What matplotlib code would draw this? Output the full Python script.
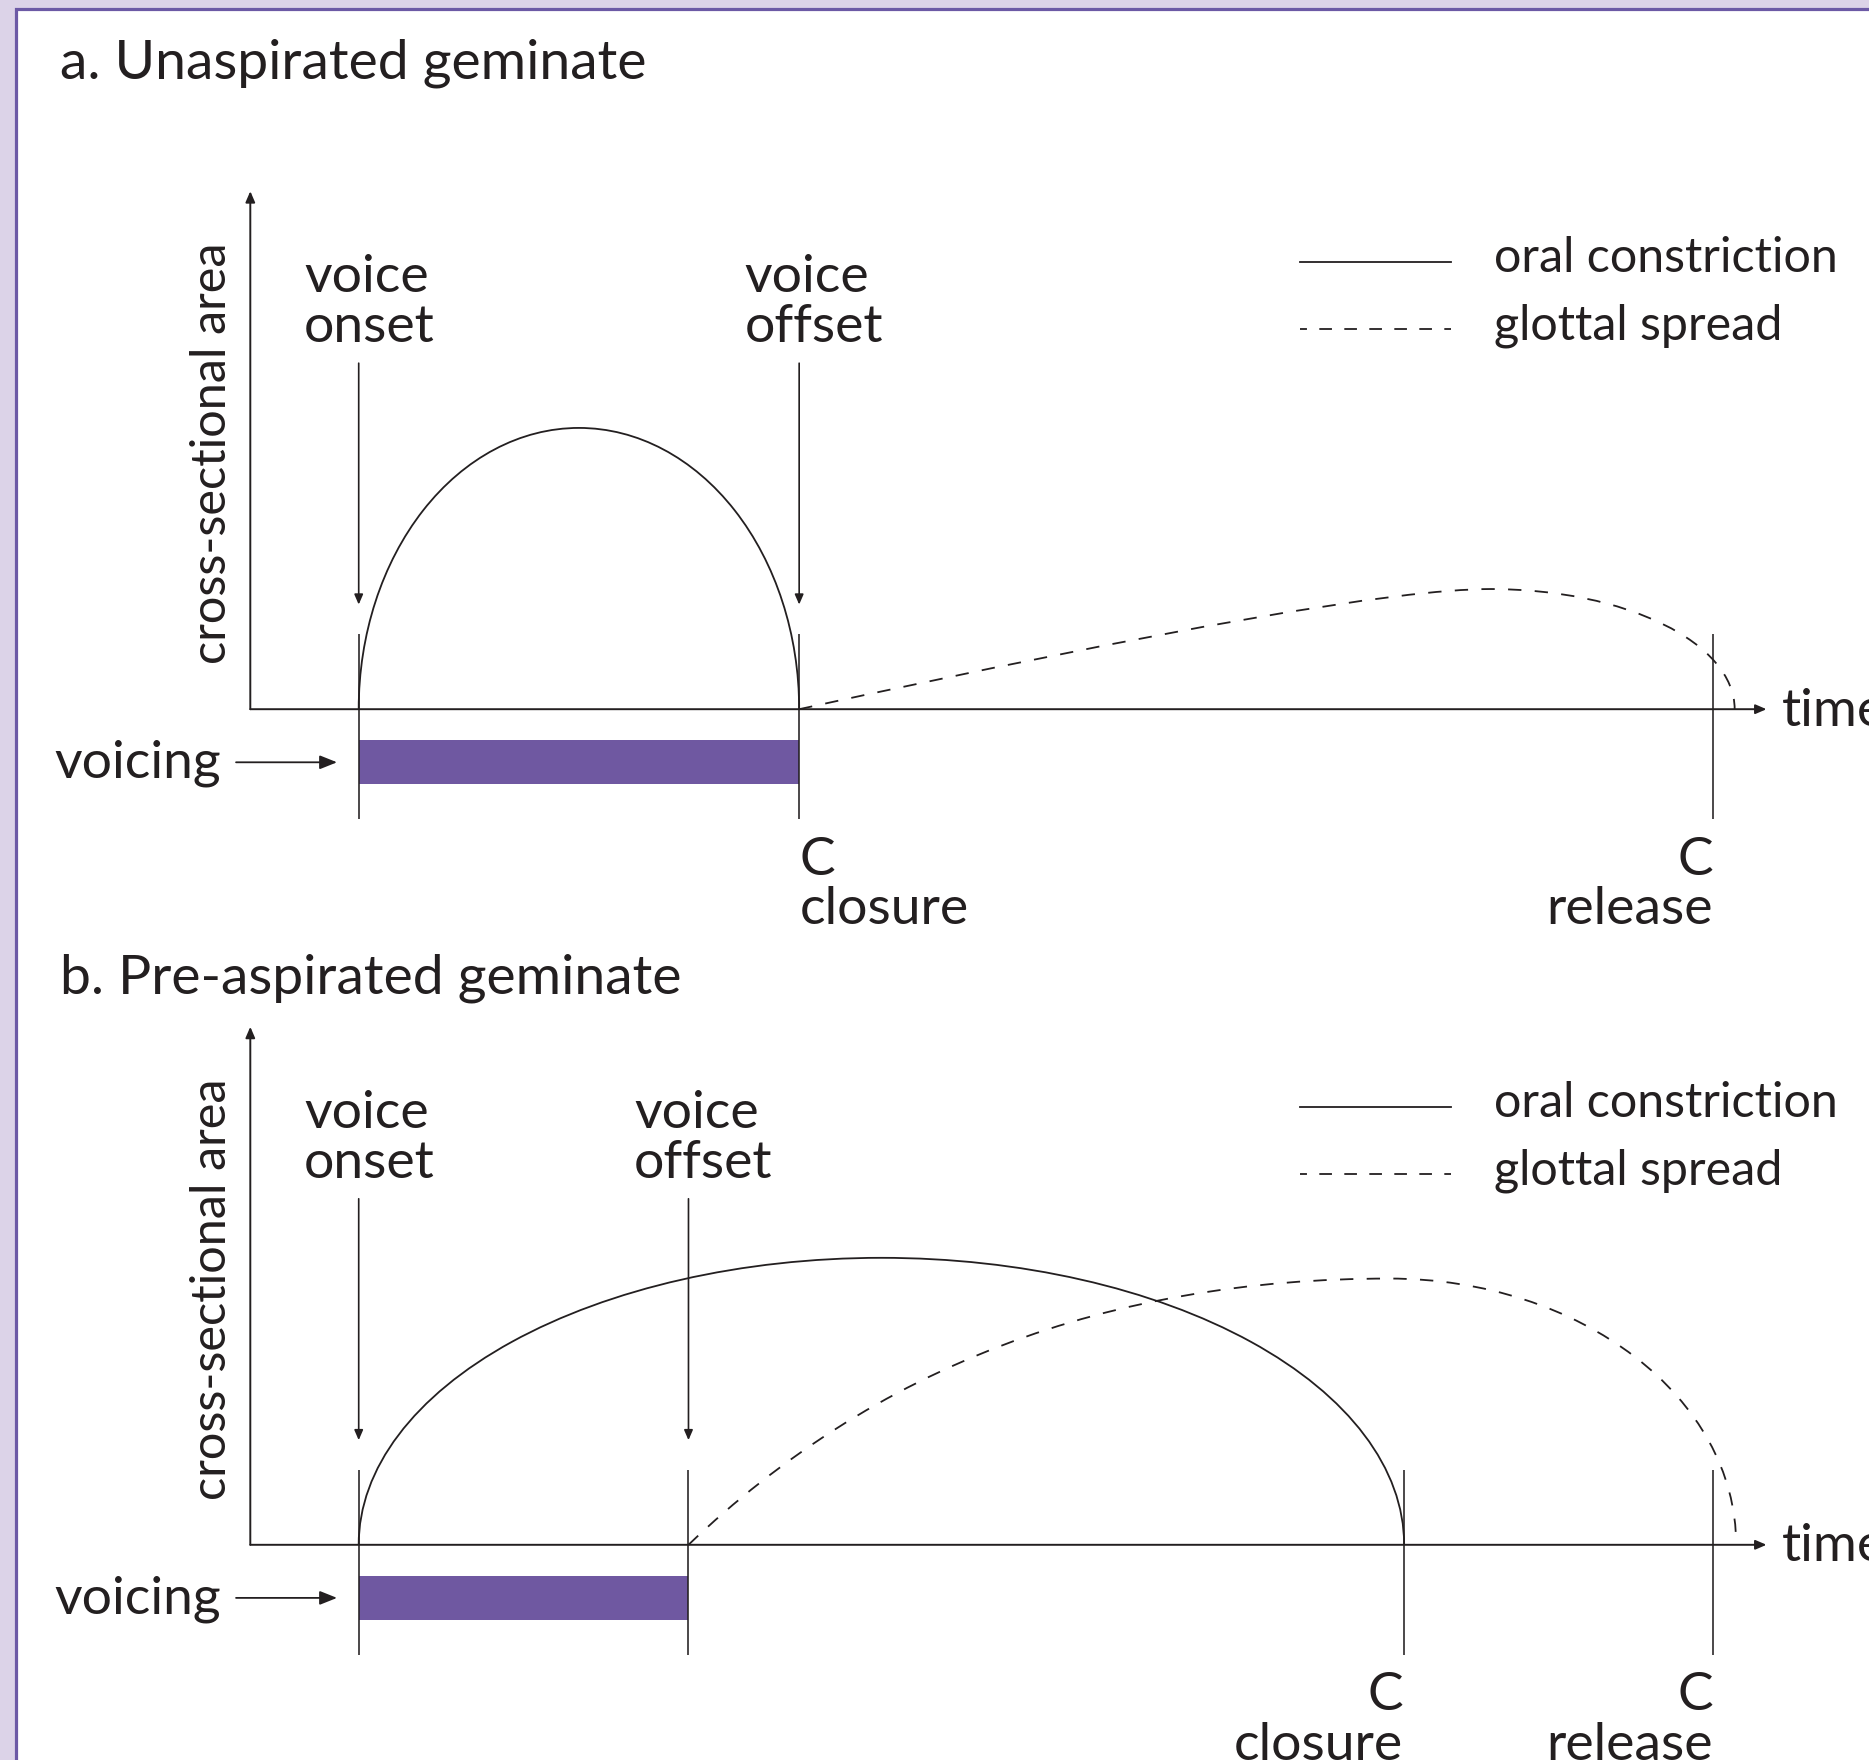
import matplotlib
matplotlib.use("Agg")
import matplotlib.pyplot as plt
from matplotlib.patches import Arc, Rectangle, PathPatch, ArrowStyle
from matplotlib.path import Path

plt.rcParams['font.family'] = ['Lato', 'DejaVu Sans']
plt.rcParams['lines.scale_dashes'] = False

# ---------------------------------------------------------------------------
# Data: time (arbitrary units, 0-100 along the time axis) and
# cross-sectional area (arbitrary units, 0-100 along the vertical axis)
# ---------------------------------------------------------------------------
panel_titles = ["a. Unaspirated geminate", "b. Pre-aspirated geminate"]
voice_onset = [7.15, 7.15]
voice_offset = [36.2, 28.9]
c_closure = [36.2, 76.1]
c_release = [96.5, 96.5]
oral_peak = [54.3, 55.4]
glottal_start = [36.2, 28.9]
glottal_peak_time = [81.8, 75.1]
glottal_peak = [23.2, 51.4]
glottal_end = [97.9, 98.0]
glottal_rise_slope = [0.64, 2.8]

legend_labels = ["oral constriction", "glottal spread"]
y_label = "cross-sectional area"
x_label = "time"

# ---------------------------------------------------------------------------
# Layout / style
# ---------------------------------------------------------------------------
W, H, DPI = 1869, 1760, 100
INK = "#231f20"
VOICE_COLOR = "#6f58a1"
TITLE_FS = 39.8
FS = 38.5
LEG_FS = 34.8
YL_FS = 35
LSP = 1.07

CURVE_DASH = (0, (9.6, 9.6))
KEY_DASH = (4.1, (9.1, 8.9))

X0 = 250.3          # pixel column of t = 0
XPX = 15.162        # pixels per time unit
YPX = 5.18          # pixels per area unit
origin_rows = [709.2, 1544.8]      # pixel row (from top) of area = 0
panel_rows = [(0, 880), (880, 1760)]
title_rows = [78.7, 993.0]
legend_shift = [0.0, -1.8]

fig = plt.figure(figsize=(W / DPI, H / DPI), dpi=DPI)
fig.patch.set_facecolor("#dcd3e8")
fig.add_artist(Rectangle((16 / W, -0.05), 1.2, 1.05 - 9 / H,
                         transform=fig.transFigure, facecolor="white",
                         edgecolor="#6c59a5", linewidth=2.3, zorder=-5))

axis_head = ArrowStyle("-|>", head_length=0.65, head_width=0.28)
voice_head = ArrowStyle("-|>", head_length=0.6, head_width=0.26)
side_head = ArrowStyle("-|>", head_length=1.05, head_width=0.42)


def arrow(ax, start, end, style, lw):
    ax.annotate("", xy=end, xytext=start, annotation_clip=False,
                arrowprops=dict(arrowstyle=style, color=INK, lw=lw,
                                shrinkA=0, shrinkB=0, mutation_scale=10))


for i in range(2):
    top, bottom = panel_rows[i]
    y0 = origin_rows[i]
    ax = fig.add_axes([0, (H - bottom) / H, 1, (bottom - top) / H])
    ax.set_xlim(-X0 / XPX, (W - X0) / XPX)
    ax.set_ylim((y0 - bottom) / YPX, (y0 - top) / YPX)
    ax.axis("off")

    fig.text(59.6 / W, 1 - title_rows[i] / H, panel_titles[i],
             fontsize=TITLE_FS, color=INK, va="baseline", ha="left")

    # axes with arrow heads
    arrow(ax, (0, 0), (0, 100), axis_head, 1.4)
    arrow(ax, (0, 0), (100, 0), axis_head, 1.4)
    ax.text(101.0, -3.2, x_label, fontsize=FS, color=INK,
            ha="left", va="baseline")
    ax.text(-1.57, 49.4, y_label, fontsize=YL_FS, color=INK, rotation=90,
            rotation_mode="anchor", ha="center", va="baseline")

    # event markers
    events = sorted({voice_onset[i], voice_offset[i], c_closure[i], c_release[i]})
    for t in events:
        ax.plot([t, t], [14.5, -21.2], color=INK, lw=1.15,
                solid_capstyle="butt")

    # voicing interval
    ax.add_patch(Rectangle((voice_onset[i], -14.5),
                           voice_offset[i] - voice_onset[i], 8.5,
                           facecolor=VOICE_COLOR, edgecolor="none"))
    ax.text(-1.95, -13.2, "voicing", fontsize=FS, color=INK,
            ha="right", va="baseline")
    arrow(ax, (-0.94, -10.25), (5.72, -10.25), side_head, 1.3)

    # voice onset / offset pointers
    for t, lab in [(voice_onset[i], "voice\nonset"),
                   (voice_offset[i], "voice\noffset")]:
        ax.text(t - 3.6, 70.9, lab, fontsize=FS, color=INK,
                ha="left", va="baseline", linespacing=LSP)
        arrow(ax, (t, 66.8), (t, 20.2), voice_head, 1.2)

    # consonant closure / release labels
    close_ha = "left" if c_closure[i] == voice_offset[i] else "right"
    ax.text(c_closure[i] + (0.05 if close_ha == "left" else -0.05), -41.5,
            "C\nclosure", fontsize=FS, color=INK, ha=close_ha,
            va="baseline", linespacing=LSP, multialignment=close_ha)
    ax.text(c_release[i] - 0.05, -41.5, "C\nrelease", fontsize=FS,
            color=INK, ha="right", va="baseline", linespacing=LSP,
            multialignment="right")

    # oral constriction: half-ellipse from voice onset to closure
    mid = (voice_onset[i] + c_closure[i]) / 2
    ax.add_patch(Arc((mid, 0), c_closure[i] - voice_onset[i],
                     2 * oral_peak[i], theta1=0, theta2=180,
                     color=INK, lw=1.3))

    # glottal spreading gesture
    t0, tp, te = glottal_start[i], glottal_peak_time[i], glottal_end[i]
    gp = glottal_peak[i]
    k = 0.5523
    ctrl = t0 + gp / glottal_rise_slope[i]
    verts = [(t0, 0), (ctrl, gp), (tp, gp),
             (tp + k * (te - tp), gp), (te, k * gp), (te, 0)]
    codes = [Path.MOVETO, Path.CURVE3, Path.CURVE3,
             Path.CURVE4, Path.CURVE4, Path.CURVE4]
    ax.add_patch(PathPatch(Path(verts, codes), fill=False, edgecolor=INK,
                           lw=1.3, linestyle=CURVE_DASH))

    # key
    ly_solid = 86.3 + legend_shift[i]
    ly_dash = 73.4 + legend_shift[i]
    ax.plot([69.2, 79.2], [ly_solid, ly_solid], color=INK, lw=1.3)
    ax.plot([69.2, 79.2], [ly_dash, ly_dash], color=INK, lw=1.3,
            linestyle=KEY_DASH)
    ax.text(82.0, 84.4 + legend_shift[i], legend_labels[0], fontsize=LEG_FS,
            color=INK, ha="left", va="baseline")
    ax.text(82.0, 71.3 + legend_shift[i], legend_labels[1], fontsize=LEG_FS,
            color=INK, ha="left", va="baseline")

fig.savefig("out.png", dpi=DPI, facecolor=fig.get_facecolor())
